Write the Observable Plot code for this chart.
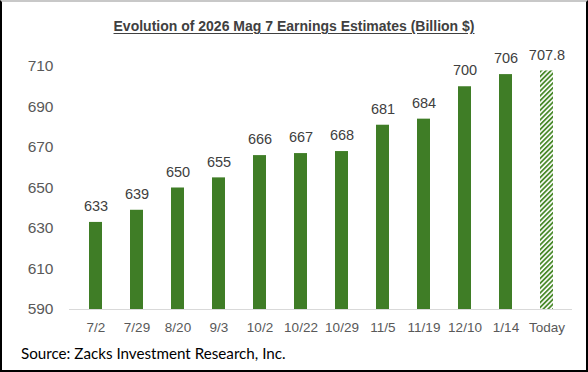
<!DOCTYPE html>
<html>
<head>
<meta charset="utf-8">
<script src="https://cdn.jsdelivr.net/npm/d3@7"></script>
<script src="https://cdn.jsdelivr.net/npm/@observablehq/plot@0.6"></script>
<style>
  html, body { margin: 0; padding: 0; background: #fff; }
  #wrap { position: relative; width: 588px; height: 372px; overflow: hidden; background: #fff; }
  #chart { position: absolute; left: 0; top: 0; }
  #title { position: absolute; left: 0; width: 588px; top: 18px; text-align: center;
           font: bold 14px "Liberation Sans", Arial, sans-serif; line-height: 16px; color: #404040;
           text-decoration: underline; text-underline-offset: 2px; }
  #source { position: absolute; left: 21px; top: 344px; font: 15.2px Lato, "Open Sans", sans-serif;
            line-height: 18px; color: #000; }
  #frame { position: absolute; left: 0; top: 0; width: 588px; height: 372px; box-sizing: border-box;
           border-left: 2px solid #000; border-right: 2px solid #000; border-bottom: 2px solid #000;
           border-top: 2px solid #c8c8c8; pointer-events: none; }
</style>
</head>
<body>
<div id="wrap">
  <div id="chart"></div>
  <div id="title">Evolution of 2026 Mag 7 Earnings Estimates (Billion $)</div>
  <div id="source">Source: Zacks Investment Research, Inc.</div>
  <div id="frame"></div>
</div>
<script>
const categories = ["7/2","7/29","8/20","9/3","10/2","10/22","10/29","11/5","11/19","12/10","1/14","Today"];
const values = [633, 639, 650, 655, 666, 667, 668, 681, 684, 700, 706, 707.8];
const valueLabels = ["633","639","650","655","666","667","668","681","684","700","706","707.8"];
const estimateKind = ["actual","actual","actual","actual","actual","actual","actual","actual","actual","actual","actual","today"];
const yTicks = [590, 610, 630, 650, 670, 690, 710];

const data = categories.map((c, i) => ({cat: c, value: values[i], label: valueLabels[i], kind: estimateKind[i]}));
const solid = data.filter(d => d.kind === "actual");
const hatched = data.filter(d => d.kind === "today");

const plot = Plot.plot({
  width: 588,
  height: 372,
  marginTop: 66,
  marginBottom: 63,
  marginLeft: 69,
  marginRight: 16,
  style: {fontFamily: "'Liberation Sans', Arial, sans-serif", background: "transparent", overflow: "visible"},
  x: {domain: categories, paddingInner: 0.69, paddingOuter: 0.345, label: null},
  y: {domain: [590, 710], label: null},
  marks: [
    Plot.barY(solid, {x: "cat", y1: 590, y2: "value", fill: "#3f7d26"}),
    Plot.barY(hatched, {x: "cat", y1: 590, y2: "value", fill: "url(#hatchToday)"}),
    Plot.ruleY([590], {stroke: "#d9d9d9", strokeWidth: 1.2}),
    Plot.text(data, {x: "cat", y: "value", text: "label", dy: -16, fontSize: 14.5, fill: "#404040"}),
    Plot.axisY(yTicks, {tickSize: 0, tickPadding: 16, fontSize: 15.5, color: "#595959", label: null}),
    Plot.axisX({tickSize: 0, tickPadding: 13, fontSize: 13.5, color: "#595959", label: null})
  ]
});

const svg = d3.select(plot);
const defs = svg.insert("defs", ":first-child");
const pat = defs.append("pattern")
  .attr("id", "hatchToday")
  .attr("patternUnits", "userSpaceOnUse")
  .attr("width", 3.4)
  .attr("height", 3.4)
  .attr("patternTransform", "rotate(45)");
pat.append("rect").attr("width", 3.4).attr("height", 3.4).attr("fill", "#ffffff");
pat.append("rect").attr("width", 1.8).attr("height", 3.4).attr("fill", "#4a8a2c");

document.getElementById("chart").appendChild(plot);
</script>
</body>
</html>
